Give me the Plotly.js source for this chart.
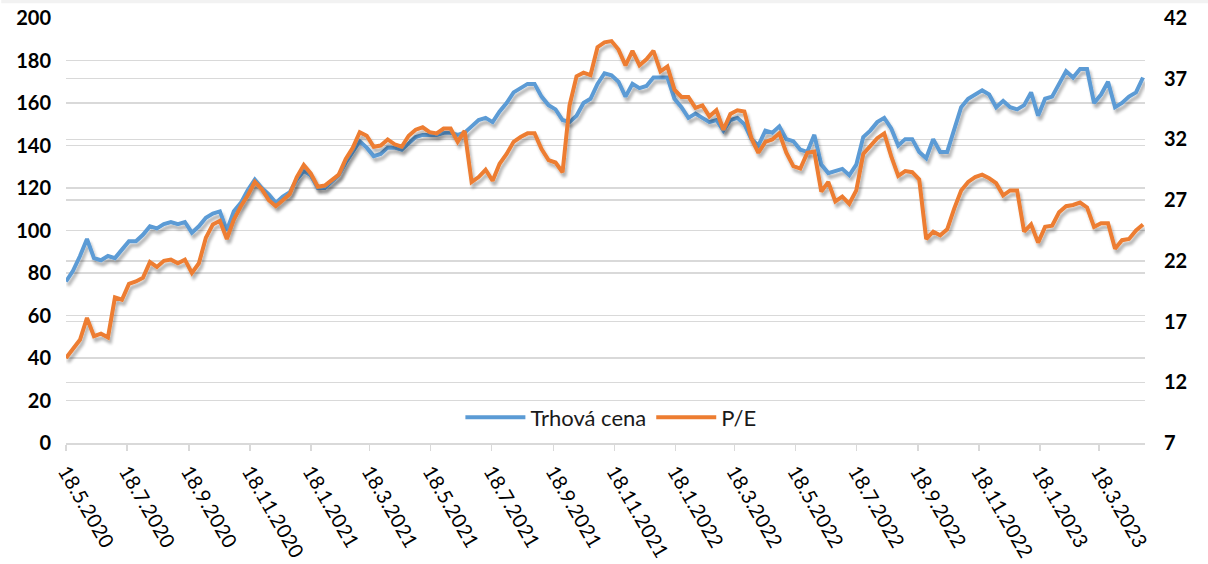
<!DOCTYPE html>
<html>
<head>
<meta charset="utf-8">
<script src="https://cdn.plot.ly/plotly-3.0.1.min.js"></script>
<style>
  html, body { margin: 0; padding: 0; background: #ffffff; }
  #chart { width: 1208px; height: 564px; }
</style>
</head>
<body>
<svg width="0" height="0" style="position:absolute">
  <defs>
    <filter id="lineShadow" x="-5%" y="-20%" width="110%" height="140%" filterUnits="objectBoundingBox">
      <feGaussianBlur in="SourceAlpha" stdDeviation="1.6" result="blur"/>
      <feOffset in="blur" dx="1.5" dy="4" result="off"/>
      <feComponentTransfer in="off" result="shadow">
        <feFuncA type="linear" slope="0.3"/>
      </feComponentTransfer>
      <feMerge>
        <feMergeNode in="shadow"/>
        <feMergeNode in="SourceGraphic"/>
      </feMerge>
    </filter>
  </defs>
</svg>
<div id="chart"></div>
<script>
// Weekly observations starting 18.5.2020 (one value per week)
const startDate = '2020-05-18';
const stepDays = 7;

// Trhová cena (left axis)
const trhovaCena = [
  76, 81, 88, 96, 87, 86, 88, 87, 91, 95,
  95, 98, 102, 101, 103, 104, 103, 104, 99, 102,
  106, 108, 109, 100, 109, 113, 119, 124, 120, 117,
  113, 116, 118, 124, 128, 126, 120, 120, 123, 126,
  132, 137, 142, 139, 135, 136, 139, 139, 138, 141,
  144, 145, 145, 145, 146, 146, 145, 146, 149, 152,
  153, 151, 156, 160, 165, 167, 169, 169, 163, 159,
  157, 152, 151, 154, 160, 162, 169, 174, 173, 170,
  163, 169, 167, 168, 172, 172, 172, 162, 158, 153,
  155, 153, 151, 152, 147, 152, 153, 150, 143, 140,
  147, 146, 149, 143, 142, 138, 137, 145, 131, 127,
  128, 129, 126, 131, 144, 147, 151, 153, 148, 140,
  143, 143, 137, 134, 143, 137, 137, 148, 158, 162,
  164, 166, 164, 158, 161, 158, 157, 159, 165, 154,
  162, 163, 169, 175, 172, 176, 176, 160, 164, 170,
  158, 160, 163, 165, 172
];

// P/E (right axis)
const pe = [
  14.0, 14.7, 15.5, 17.3, 15.8, 16.0, 15.7, 19.0, 18.8, 20.1,
  20.3, 20.6, 21.9, 21.5, 22.0, 22.1, 21.8, 22.1, 21.0, 21.8,
  23.9, 25.0, 25.3, 23.8, 25.4, 26.5, 27.4, 28.5, 27.9, 27.0,
  26.5, 27.0, 27.5, 28.9, 29.9, 29.2, 28.1, 28.2, 28.7, 29.1,
  30.4, 31.3, 32.6, 32.3, 31.4, 31.5, 32.0, 31.6, 31.4, 32.3,
  32.8, 33.0, 32.6, 32.5, 32.9, 32.9, 31.8, 32.7, 28.5, 28.9,
  29.5, 28.6, 30.0, 30.8, 31.8, 32.2, 32.5, 32.5, 31.2, 30.3,
  30.1, 29.3, 34.8, 37.2, 37.5, 37.3, 39.6, 40.0, 40.1, 39.4,
  38.1, 39.3, 38.1, 38.6, 39.3, 37.6, 38.0, 36.1, 35.5, 35.5,
  34.6, 34.8, 33.9, 34.4, 32.8, 34.1, 34.4, 34.3, 32.1, 30.9,
  31.8, 32.0, 32.5, 30.9, 29.8, 29.6, 30.9, 31.0, 27.7, 28.5,
  26.9, 27.3, 26.7, 27.8, 30.8, 31.4, 32.1, 32.5, 30.6, 29.0,
  29.4, 29.3, 28.7, 23.8, 24.4, 24.1, 24.6, 26.3, 27.8, 28.5,
  28.9, 29.1, 28.8, 28.4, 27.4, 27.8, 27.8, 24.4, 25.0, 23.5,
  24.8, 24.9, 26.0, 26.5, 26.6, 26.8, 26.4, 24.8, 25.1, 25.1,
  23.0, 23.7, 23.8, 24.5, 25.0
];

// X axis tick positions and labels
const tickDates = [
  '2020-05-18','2020-07-18','2020-09-18','2020-11-18',
  '2021-01-18','2021-03-18','2021-05-18','2021-07-18','2021-09-18','2021-11-18',
  '2022-01-18','2022-03-18','2022-05-18','2022-07-18','2022-09-18','2022-11-18',
  '2023-01-18','2023-03-18'
];
const tickLabels = [
  '18.5.2020','18.7.2020','18.9.2020','18.11.2020',
  '18.1.2021','18.3.2021','18.5.2021','18.7.2021','18.9.2021','18.11.2021',
  '18.1.2022','18.3.2022','18.5.2022','18.7.2022','18.9.2022','18.11.2022',
  '18.1.2023','18.3.2023'
];
const leftTicks = [0, 20, 40, 60, 80, 100, 120, 140, 160, 180, 200];
const rightTicks = [7, 12, 17, 22, 27, 32, 37, 42];

// Category dates for the weekly observations
const dates = [];
{
  const d0 = new Date(startDate + 'T00:00:00Z');
  for (let i = 0; i < trhovaCena.length; i++) {
    const d = new Date(d0.getTime() + i * stepDays * 86400000);
    dates.push(d.toISOString().slice(0, 10));
  }
}

const FONT = 'Lato, "Open Sans", "Liberation Sans", sans-serif';
const GRID = '#d9d9d9';

const traces = [
  {
    x: dates, y: trhovaCena, name: 'Trhová cena', type: 'scatter', mode: 'lines',
    line: { color: '#5b9bd5', width: 4, shape: 'linear' }, yaxis: 'y'
  },
  {
    x: dates, y: pe, name: 'P/E', type: 'scatter', mode: 'lines',
    line: { color: '#ed7d31', width: 4, shape: 'linear' }, yaxis: 'y2'
  }
];

const layout = {
  width: 1208, height: 564,
  paper_bgcolor: '#ffffff', plot_bgcolor: '#ffffff',
  margin: { l: 66, r: 63, t: 18, b: 121 },
  font: { family: FONT, size: 20, color: '#000000' },
  showlegend: true,
  legend: {
    orientation: 'h', x: 0.505, xanchor: 'center', y: 0.06, yanchor: 'middle',
    bgcolor: 'rgba(0,0,0,0)', font: { family: FONT, size: 22, color: '#1a1a1a' },
    itemwidth: 60, tracegroupgap: 0
  },
  xaxis: {
    type: 'date',
    range: ['2020-05-18', '2023-05-03'],
    tickmode: 'array', tickvals: tickDates, ticktext: tickLabels,
    tickangle: 60,
    tickfont: { family: FONT, size: 20, color: '#000000' },
    ticks: 'outside', ticklen: 6, tickwidth: 1.5, tickcolor: GRID,
    ticklabelstandoff: 1,
    showline: true, linecolor: GRID, linewidth: 2,
    showgrid: false, zeroline: false, automargin: false
  },
  yaxis: {
    range: [0, 200], tickmode: 'array', tickvals: leftTicks,
    tickfont: { family: FONT, size: 20, color: '#000000', weight: 'bold' },
    showgrid: true, gridcolor: GRID, gridwidth: 1.5,
    zeroline: false, showline: false, ticks: '', ticklabelstandoff: 14,
    automargin: false
  },
  yaxis2: {
    range: [7, 42], tickmode: 'array', tickvals: rightTicks,
    overlaying: 'y', side: 'right',
    tickfont: { family: FONT, size: 20, color: '#000000', weight: 'bold' },
    showgrid: true, gridcolor: GRID, gridwidth: 1.5,
    zeroline: false, showline: false, ticks: '', ticklabelstandoff: 18,
    automargin: false
  },
  shapes: [
    { type: 'rect', xref: 'paper', yref: 'paper', x0: -0.06, x1: 1.06,
      y0: 1.035, y1: 1.06, fillcolor: '#f2f2f2', line: { width: 0 }, layer: 'below' }
  ]
};

Plotly.newPlot('chart', traces, layout, { displayModeBar: false, staticPlot: true }).then(function (gd) {
  // soft drop shadow under the data lines, as in the original chart
  gd.querySelectorAll('.scatterlayer path.js-line').forEach(function (p) {
    p.style.filter = 'url(#lineShadow)';
  });
});
</script>
</body>
</html>
